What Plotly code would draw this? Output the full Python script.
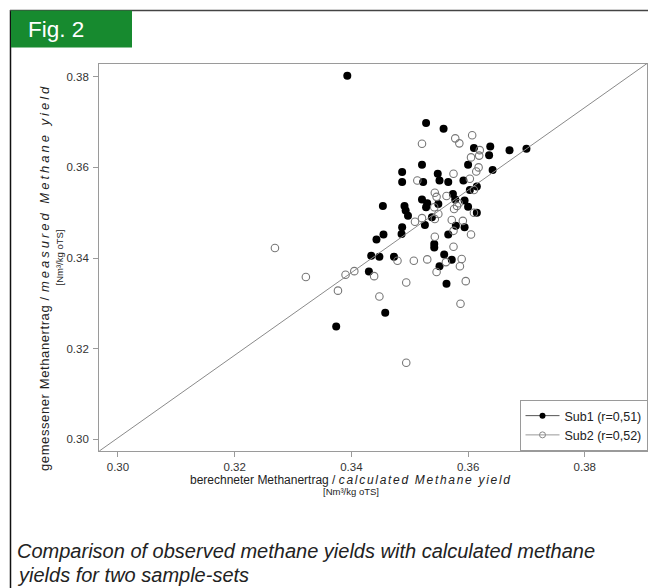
import plotly.graph_objects as go

# ---- data ----
sub1_x = [0.3528, 0.3558, 0.3487, 0.3487, 0.3521, 0.3523, 0.3548, 0.3551, 0.3566, 0.3592,
          0.3610, 0.3638, 0.3636, 0.3600, 0.3642, 0.3615, 0.3603, 0.3574, 0.3578, 0.3521,
          0.3530, 0.3528, 0.3549, 0.3454, 0.3491, 0.3493, 0.3497, 0.3594, 0.3600, 0.3615,
          0.3538, 0.3526, 0.3487, 0.3579, 0.3594, 0.3455, 0.3486, 0.3443, 0.3566, 0.3542,
          0.3542, 0.3434, 0.3448, 0.3473, 0.3559, 0.3572, 0.3551, 0.3430, 0.3563, 0.3458,
          0.3374, 0.3393, 0.3671, 0.3700]
sub1_y = [0.3698, 0.3685, 0.3590, 0.3568, 0.3606, 0.3568, 0.3586, 0.3571, 0.3568, 0.3571,
          0.3643, 0.3646, 0.3627, 0.3606, 0.3594, 0.3558, 0.3550, 0.3541, 0.3529, 0.3529,
          0.3521, 0.3512, 0.3519, 0.3515, 0.3515, 0.3505, 0.3493, 0.3527, 0.3513, 0.3500,
          0.3490, 0.3473, 0.3468, 0.3471, 0.3468, 0.3452, 0.3453, 0.3441, 0.3452, 0.3431,
          0.3423, 0.3405, 0.3403, 0.3403, 0.3408, 0.3396, 0.3382, 0.3370, 0.3343, 0.3279,
          0.3249, 0.3802, 0.3638, 0.3641]

sub2_x = [0.3521, 0.3578, 0.3585, 0.3607, 0.3620, 0.3619, 0.3605, 0.3618, 0.3614, 0.3575,
          0.3513, 0.3603, 0.3543, 0.3546, 0.3563, 0.3610, 0.3542, 0.3576, 0.3581, 0.3584,
          0.3610, 0.3549, 0.3509, 0.3521, 0.3543, 0.3572, 0.3591, 0.3575, 0.3605, 0.3543,
          0.3575, 0.3479, 0.3507, 0.3530, 0.3562, 0.3589, 0.3586, 0.3546, 0.3322, 0.3390,
          0.3405, 0.3439, 0.3377, 0.3494, 0.3596, 0.3448, 0.3587, 0.3494, 0.3269]
sub2_y = [0.3652, 0.3664, 0.3653, 0.3671, 0.3638, 0.3626, 0.3622, 0.3600, 0.3591, 0.3586,
          0.3571, 0.3575, 0.3544, 0.3535, 0.3537, 0.3550, 0.3512, 0.3508, 0.3515, 0.3521,
          0.3500, 0.3497, 0.3480, 0.3488, 0.3486, 0.3484, 0.3482, 0.3460, 0.3452, 0.3447,
          0.3425, 0.3394, 0.3394, 0.3397, 0.3391, 0.3398, 0.3382, 0.3369, 0.3358, 0.3363,
          0.3371, 0.3360, 0.3328, 0.3346, 0.3349, 0.3315, 0.3299, 0.3169, 0.3422]

tick_vals = [0.30, 0.32, 0.34, 0.36, 0.38]
tick_text = ["0.30", "0.32", "0.34", "0.36", "0.38"]
legend_names = ["Sub1 (r=0,51)", "Sub2 (r=0,52)"]

W, H = 648, 588
FONT = "Liberation Sans, Arial, sans-serif"

def px(x):
    return x / W

def py(y):
    return 1 - y / H

fig = go.Figure()

# data traces
fig.add_trace(go.Scatter(x=sub1_x, y=sub1_y, mode="markers", showlegend=False,
                         marker=dict(symbol="circle", size=8, color="#000000",
                                     line=dict(width=0))))
fig.add_trace(go.Scatter(x=sub2_x, y=sub2_y, mode="markers", showlegend=False,
                         marker=dict(symbol="circle-open", size=7.5, color="#777777",
                                     line=dict(width=1.1))))
# legend-only traces (line + marker symbol as in reference)
fig.add_trace(go.Scatter(x=[None], y=[None], mode="lines+markers", name=legend_names[0],
                         line=dict(color="#555555", width=1),
                         marker=dict(symbol="circle", size=6, color="#000000")))
fig.add_trace(go.Scatter(x=[None], y=[None], mode="lines+markers", name=legend_names[1],
                         line=dict(color="#999999", width=1),
                         marker=dict(symbol="circle-open", size=6, color="#888888",
                                     line=dict(width=1))))

x0, x1 = 99.3, 647.0
y0, y1 = 63.5, 451.0

axis_common = dict(
    showgrid=False, zeroline=False, showline=True, linecolor="#9a9a9a", linewidth=1.3,
    mirror=True, ticks="outside", tickcolor="#9a9a9a", tickwidth=1,
    tickvals=tick_vals, ticktext=tick_text,
    tickfont=dict(family=FONT, size=11.5, color="#333333"),
)

fig.update_layout(
    width=W, height=H,
    margin=dict(l=0, r=0, t=0, b=0),
    paper_bgcolor="white", plot_bgcolor="white",
    xaxis=dict(domain=[px(x0), px(x1)], range=[0.2968, 0.39066], ticklen=5,
               ticklabelstandoff=0, **axis_common),
    yaxis=dict(domain=[py(y1), py(y0)], range=[0.29742, 0.38292], ticklen=5,
               ticklabelstandoff=2, **axis_common),
    showlegend=True,
    legend=dict(x=px(647.5), y=py(451), xanchor="right", yanchor="bottom",
                bgcolor="white", bordercolor="#9a9a9a", borderwidth=1,
                font=dict(family=FONT, size=12.5, color="#222222"),
                itemwidth=34, tracegroupgap=0),
)

# diagonal line across the plotting region
fig.add_shape(type="line", xref="x domain", yref="y domain", x0=0, y0=0, x1=1, y1=1,
              line=dict(color="#8a8a8a", width=1))

# outer frame of the figure box
fig.add_shape(type="line", xref="paper", yref="paper", x0=px(10.5), x1=px(10.5),
              y0=py(10), y1=0, line=dict(color="#111111", width=1.5))
fig.add_shape(type="line", xref="paper", yref="paper", x0=px(10), x1=1.0,
              y0=py(10.5), y1=py(10.5), line=dict(color="#444444", width=1.3))
# green header box
fig.add_shape(type="rect", xref="paper", yref="paper", x0=px(11), x1=px(132),
              y0=py(47.5), y1=py(10.5), fillcolor="#178a2f", line=dict(width=0))

ann = []
ann.append(dict(text="Fig. 2", x=px(26), y=py(29), xanchor="left", yanchor="middle",
                font=dict(family=FONT, size=22.5, color="white")))
ann.append(dict(text="berechneter Methanertrag / <span style='letter-spacing:1.7px'><i>calculated Methane yield</i></span>",
                x=px(351), y=py(480), xanchor="center", yanchor="middle",
                font=dict(family=FONT, size=12, color="#222222")))
ann.append(dict(text="[Nm³/kg oTS]", x=px(351), y=py(491.5), xanchor="center",
                yanchor="middle", font=dict(family=FONT, size=9.5, color="#222222")))
ann.append(dict(text="<span style='letter-spacing:0.6px'>gemessener Methanertrag / </span><span style='letter-spacing:3px'><i>measured Methane yield</i></span>",
                x=px(44), y=py(278), xanchor="center", yanchor="middle", textangle=-90,
                font=dict(family=FONT, size=13, color="#222222")))
ann.append(dict(text="[Nm³/kg oTS]", x=px(59.5), y=py(258), xanchor="center",
                yanchor="middle", textangle=-90,
                font=dict(family=FONT, size=9.5, color="#222222")))
ann.append(dict(text="<i>Comparison of observed methane yields with calculated methane</i>",
                x=px(15), y=py(551), xanchor="left", yanchor="middle",
                font=dict(family=FONT, size=20, color="#222222")))
ann.append(dict(text="<i>yields for two sample-sets</i>",
                x=px(15), y=py(575), xanchor="left", yanchor="middle",
                font=dict(family=FONT, size=20, color="#222222")))
for a in ann:
    a.update(xref="paper", yref="paper", showarrow=False)
fig.update_layout(annotations=ann)

fig.write_html("out.html", config={"displayModeBar": False},
               post_script="document.body.style.margin='0';document.body.style.overflow='hidden';")
